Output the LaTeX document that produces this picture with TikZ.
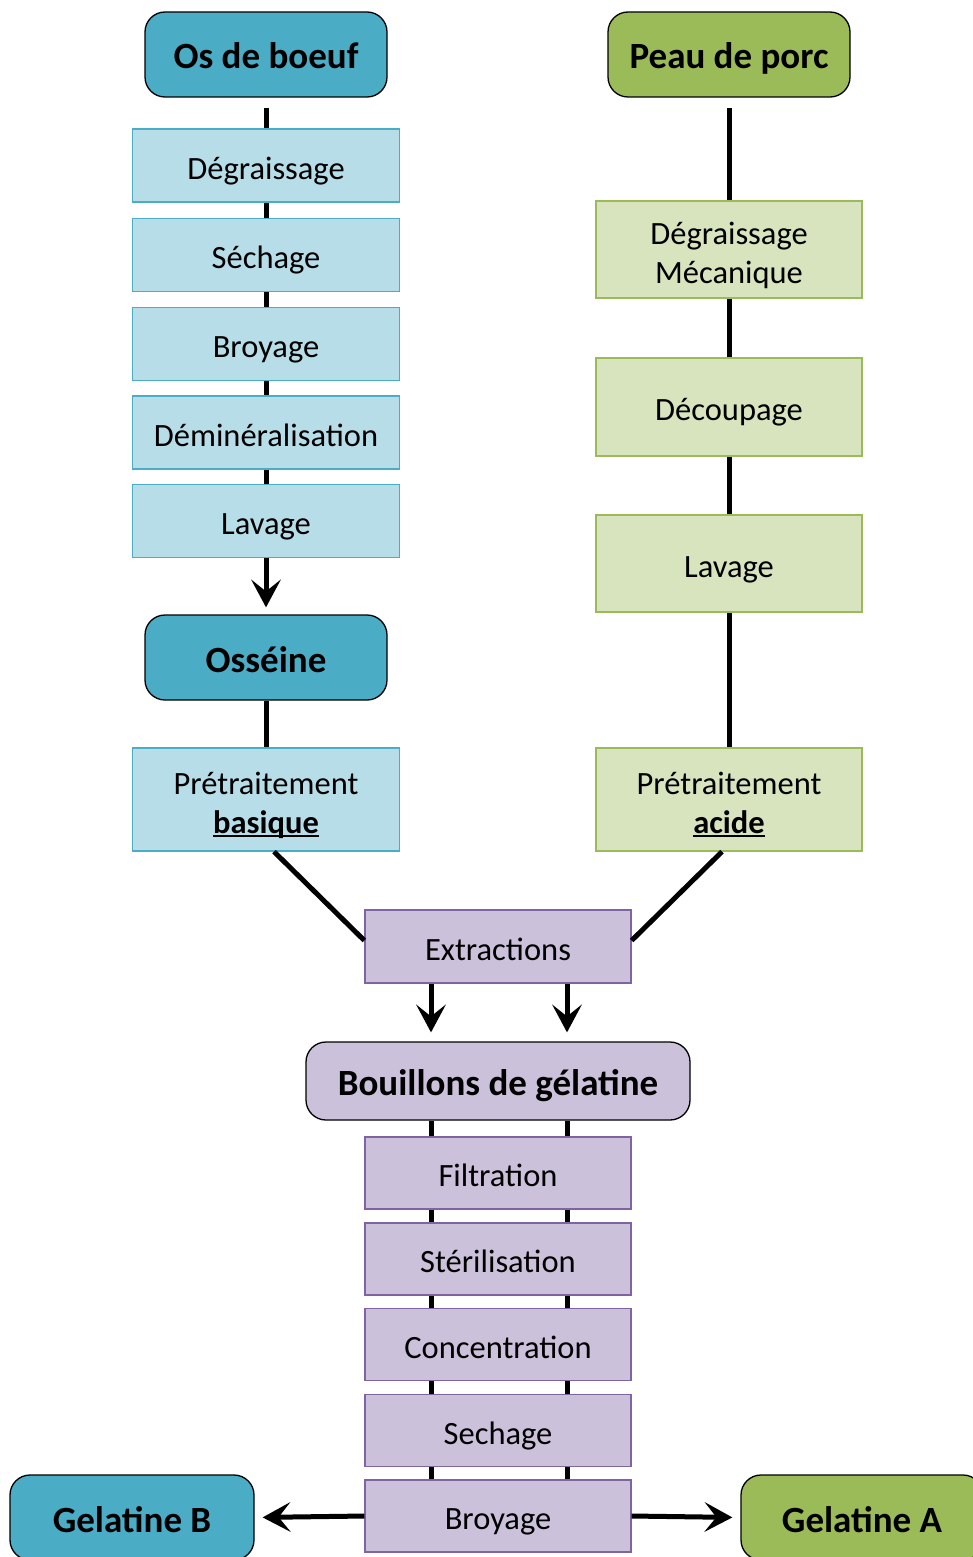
\documentclass[tikz,border=0pt]{standalone}
\usepackage{fontspec}
\setmainfont{Carlito}
\usetikzlibrary{arrows.meta,backgrounds,calc}
\definecolor{blueD}{HTML}{4BACC6}
\definecolor{blueL}{HTML}{B7DEE8}
\definecolor{greenD}{HTML}{9BBB59}
\definecolor{greenL}{HTML}{D7E4BD}
\definecolor{purL}{HTML}{CCC1DA}
\definecolor{purB}{HTML}{8064A2}
\newcommand{\ulb}[1]{{\setbox0\hbox{\bfseries #1}\rlap{\rule[-4pt]{\wd0}{2.2pt}}\box0}}
\tikzset{
  head/.style={draw=black, line width=1.3pt, rounded corners=20pt, minimum width=242pt, minimum height=85pt, inner sep=0pt, font=\fontsize{37}{40}\selectfont\bfseries, align=center, text height=31pt, text depth=2pt},
  stepbox/.style={line width=1.3pt, minimum width=267pt, minimum height=73pt, inner sep=0pt, font=\fontsize{32.5}{39}\selectfont, align=center, text height=29pt, text depth=2pt},
  twoline/.style={text height=69pt, text depth=2pt},
  bluebox/.style={stepbox, draw=blueD, fill=blueL},
  greenbox/.style={stepbox, draw=greenD, fill=greenL, minimum width=266pt},
  purbox/.style={stepbox, draw=purB, fill=purL, minimum width=266pt, minimum height=72pt},
  link/.style={line width=5pt, draw=black},
  arr/.style={line width=5pt, draw=black, -{Stealth[length=28pt,width=30pt,inset=12pt,line width=0pt]}}
}
\begin{document}
\begin{tikzpicture}[x=1pt,y=-1pt]
\useasboundingbox (0,0) rectangle (973,1557);
\clip (0,0) rectangle (973,1557);
% left column
\node[head, fill=blueD] (osb) at (266,54.5) {Os de boeuf};
\node[bluebox] (l1) at (266,165.5) {Dégraissage};
\node[bluebox] (l2) at (266,255) {Séchage};
\node[bluebox] (l3) at (266,344) {Broyage};
\node[bluebox] (l4) at (266,432.5) {Déminéralisation};
\node[bluebox] (l5) at (266,521) {Lavage};
\node[head, fill=blueD] (oss) at (266,657.5) {Osséine};
\node[bluebox, twoline, minimum height=103pt] (pb) at (266,799.5) {Prétraitement\\\ulb{basique}};
% right column
\node[head, fill=greenD] (pp) at (729,54.5) {Peau de porc};
\node[greenbox, twoline, minimum height=97pt] (r1) at (729,249.5) {Dégraissage\\Mécanique};
\node[greenbox, minimum height=98pt] (r2) at (729,407) {Découpage};
\node[greenbox, minimum height=97pt] (r3) at (729,563.5) {Lavage};
\node[greenbox, twoline, minimum height=103pt] (pa) at (729,799.5) {Prétraitement\\\ulb{acide}};
% middle
\node[purbox, minimum height=73pt] (ext) at (498,946.5) {Extractions};
\node[head, fill=purL, minimum width=384pt, minimum height=78pt] (bou) at (498,1081) {Bouillons de gélatine};
\node[purbox] (m1) at (498,1173) {Filtration};
\node[purbox] (m2) at (498,1259) {Stérilisation};
\node[purbox] (m3) at (498,1344.5) {Concentration};
\node[purbox] (m4) at (498,1430.5) {Sechage};
\node[purbox] (m5) at (498,1516) {Broyage};
\node[head, fill=blueD, minimum width=244pt] (gb) at (132,1517.5) {Gelatine B};
\node[head, fill=greenD] (ga) at (862,1517.5) {Gelatine A};
% connectors
\begin{scope}[on background layer]
\draw[link] ([yshift=-10pt]osb.south) -- (l5.south);
\draw[link] ([yshift=-10pt]pp.south) -- (pa.north);
\draw[link] ([xshift=-67pt]bou.south) -- ([xshift=-67pt]m5.north);
\draw[link] ([xshift=69pt]bou.south) -- ([xshift=69pt]m5.north);
\end{scope}
\draw[arr, shorten >=7pt] (l5.south) -- (oss.north);
\draw[link] (oss.south) -- (pb.north);
\draw[link] ($(pb.south)+(8,0)$) -- ($(ext.west)+(0,-6)$);
\draw[link] ($(pa.south)+(-7,0)$) -- ($(ext.east)+(0,-6)$);
\draw[arr, shorten >=9pt] ([xshift=-67pt]ext.south) -- ([xshift=-67pt]bou.north);
\draw[arr, shorten >=9pt] ([xshift=69pt]ext.south) -- ([xshift=69pt]bou.north);
\draw[arr, shorten >=8pt] (m5.west) -- (gb.east);
\draw[arr, shorten >=8pt] (m5.east) -- (ga.west);
\end{tikzpicture}
\end{document}
